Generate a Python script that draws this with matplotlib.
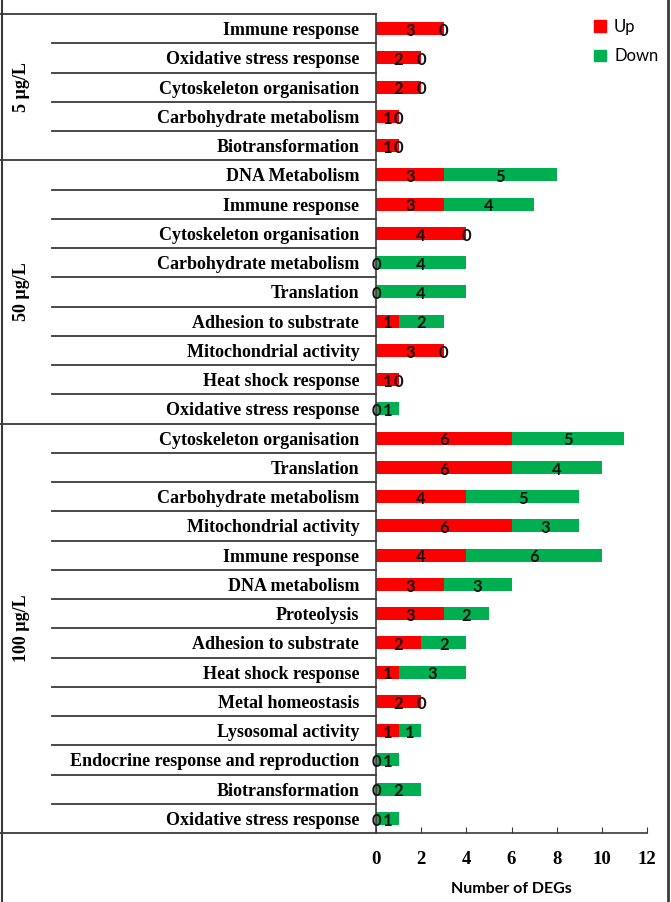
import matplotlib
matplotlib.use('Agg')
import matplotlib.pyplot as plt
from matplotlib.transforms import blended_transform_factory
from matplotlib.lines import Line2D
from matplotlib.patches import Patch

# Groups, categories (top to bottom) and counts of up/down DEGs.
groups = ['5 µg/L', '50 µg/L', '100 µg/L']
cats_5 = ['Immune response', 'Oxidative stress response', 'Cytoskeleton organisation',
          'Carbohydrate metabolism', 'Biotransformation']
up_5 = [3, 2, 2, 1, 1]
down_5 = [0, 0, 0, 0, 0]

cats_50 = ['DNA Metabolism', 'Immune response', 'Cytoskeleton organisation',
           'Carbohydrate metabolism', 'Translation', 'Adhesion to substrate',
           'Mitochondrial activity', 'Heat shock response', 'Oxidative stress response']
up_50 = [3, 3, 4, 0, 0, 1, 3, 1, 0]
down_50 = [5, 4, 0, 4, 4, 2, 0, 0, 1]

cats_100 = ['Cytoskeleton organisation', 'Translation', 'Carbohydrate metabolism',
            'Mitochondrial activity', 'Immune response', 'DNA metabolism', 'Proteolysis',
            'Adhesion to substrate', 'Heat shock response', 'Metal homeostasis',
            'Lysosomal activity', 'Endocrine response and reproduction',
            'Biotransformation', 'Oxidative stress response']
up_100 = [6, 6, 4, 6, 4, 3, 3, 2, 1, 2, 1, 0, 0, 0]
down_100 = [5, 4, 5, 3, 6, 3, 2, 2, 3, 0, 1, 1, 2, 1]

x_ticks = [0, 2, 4, 6, 8, 10, 12]

cats = cats_5 + cats_50 + cats_100
up = up_5 + up_50 + up_100
down = down_5 + down_50 + down_100
sizes = [len(cats_5), len(cats_50), len(cats_100)]

RED = '#FF0000'
GREEN = '#00B050'
LINE = '#3a3a3a'

fig = plt.figure(figsize=(6.71, 9.02), dpi=100)
W, H = 671, 902
ax = fig.add_axes([376 / W, 1 - 833 / H, (647 - 376) / W, (833 - 14) / H])

ypos = list(range(len(cats)))
ax.barh(ypos, up, height=0.44, color=RED)
ax.barh(ypos, down, left=up, height=0.44, color=GREEN)

# Value labels in the middle of each segment (zeros sit at the edge).
num_font = dict(family=['Lato', 'DejaVu Sans'], weight='bold', fontsize=12, color='#111111')
for y, u, d in zip(ypos, up, down):
    ax.text(u / 2, y + 0.08, str(u), ha='center', va='center', **num_font)
    ax.text(u + d / 2, y + 0.08, str(d), ha='center', va='center', **num_font)

ax.set_xlim(0, 12)
ax.set_ylim(len(cats) - 0.5, -0.5)
ax.set_xticks(x_ticks)
ax.set_xticklabels([str(t) for t in x_ticks], family='Liberation Serif', weight='bold', fontsize=13.5)
ax.tick_params(axis='x', direction='in', length=4, color=LINE, pad=13)
ax.set_yticks(ypos)
ax.set_yticklabels(cats, family='Liberation Serif', weight='bold', fontsize=13)
ax.tick_params(axis='y', length=0, pad=12)
ax.set_xlabel('Number of DEGs', family=['Lato', 'DejaVu Sans'], weight='bold', fontsize=11.5, labelpad=10)

for s in ['top', 'right']:
    ax.spines[s].set_visible(False)
for s in ['left', 'bottom']:
    ax.spines[s].set_color(LINE)
    ax.spines[s].set_linewidth(1.2)

# Table-like separator lines on the left.
tr = blended_transform_factory(fig.transFigure, ax.transData)
x_axis = 376 / W
starts = []
n = 0
for k in sizes:
    starts.append(n)
    n += k
for gi, (s0, k) in enumerate(zip(starts, sizes)):
    # group boundary
    ax.plot([0, x_axis], [s0 - 0.5, s0 - 0.5], transform=tr, color=LINE, lw=1.3, clip_on=False)
    for j in range(1, k):
        yy = s0 + j - 0.5
        ax.plot([52 / W, x_axis], [yy, yy], transform=tr, color=LINE, lw=1.3, clip_on=False)
    ax.text(22 / W, s0 + (k - 1) / 2, groups[gi], transform=tr, rotation=90,
            ha='center', va='center', family='Liberation Serif', weight='bold', fontsize=13)
ax.plot([0, x_axis], [n - 0.5, n - 0.5], transform=tr, color=LINE, lw=1.3, clip_on=False)

# Frame lines at the figure edges.
fig.add_artist(Line2D([2 / W, 2 / W], [0, 1], color=LINE, lw=1.5))
fig.add_artist(Line2D([668 / W, 668 / W], [0, 1], color=LINE, lw=2))

handles = [Patch(color=RED, label='Up'), Patch(color=GREEN, label='Down')]
fig.legend(handles=handles, loc='upper left', bbox_to_anchor=(579 / W, 1 - 4 / H),
           frameon=False, prop={'family': ['Lato', 'DejaVu Sans'], 'size': 12},
           handlelength=0.7, handleheight=0.7, handletextpad=0.5, labelspacing=0.8)

fig.savefig('out.png', dpi=100)
